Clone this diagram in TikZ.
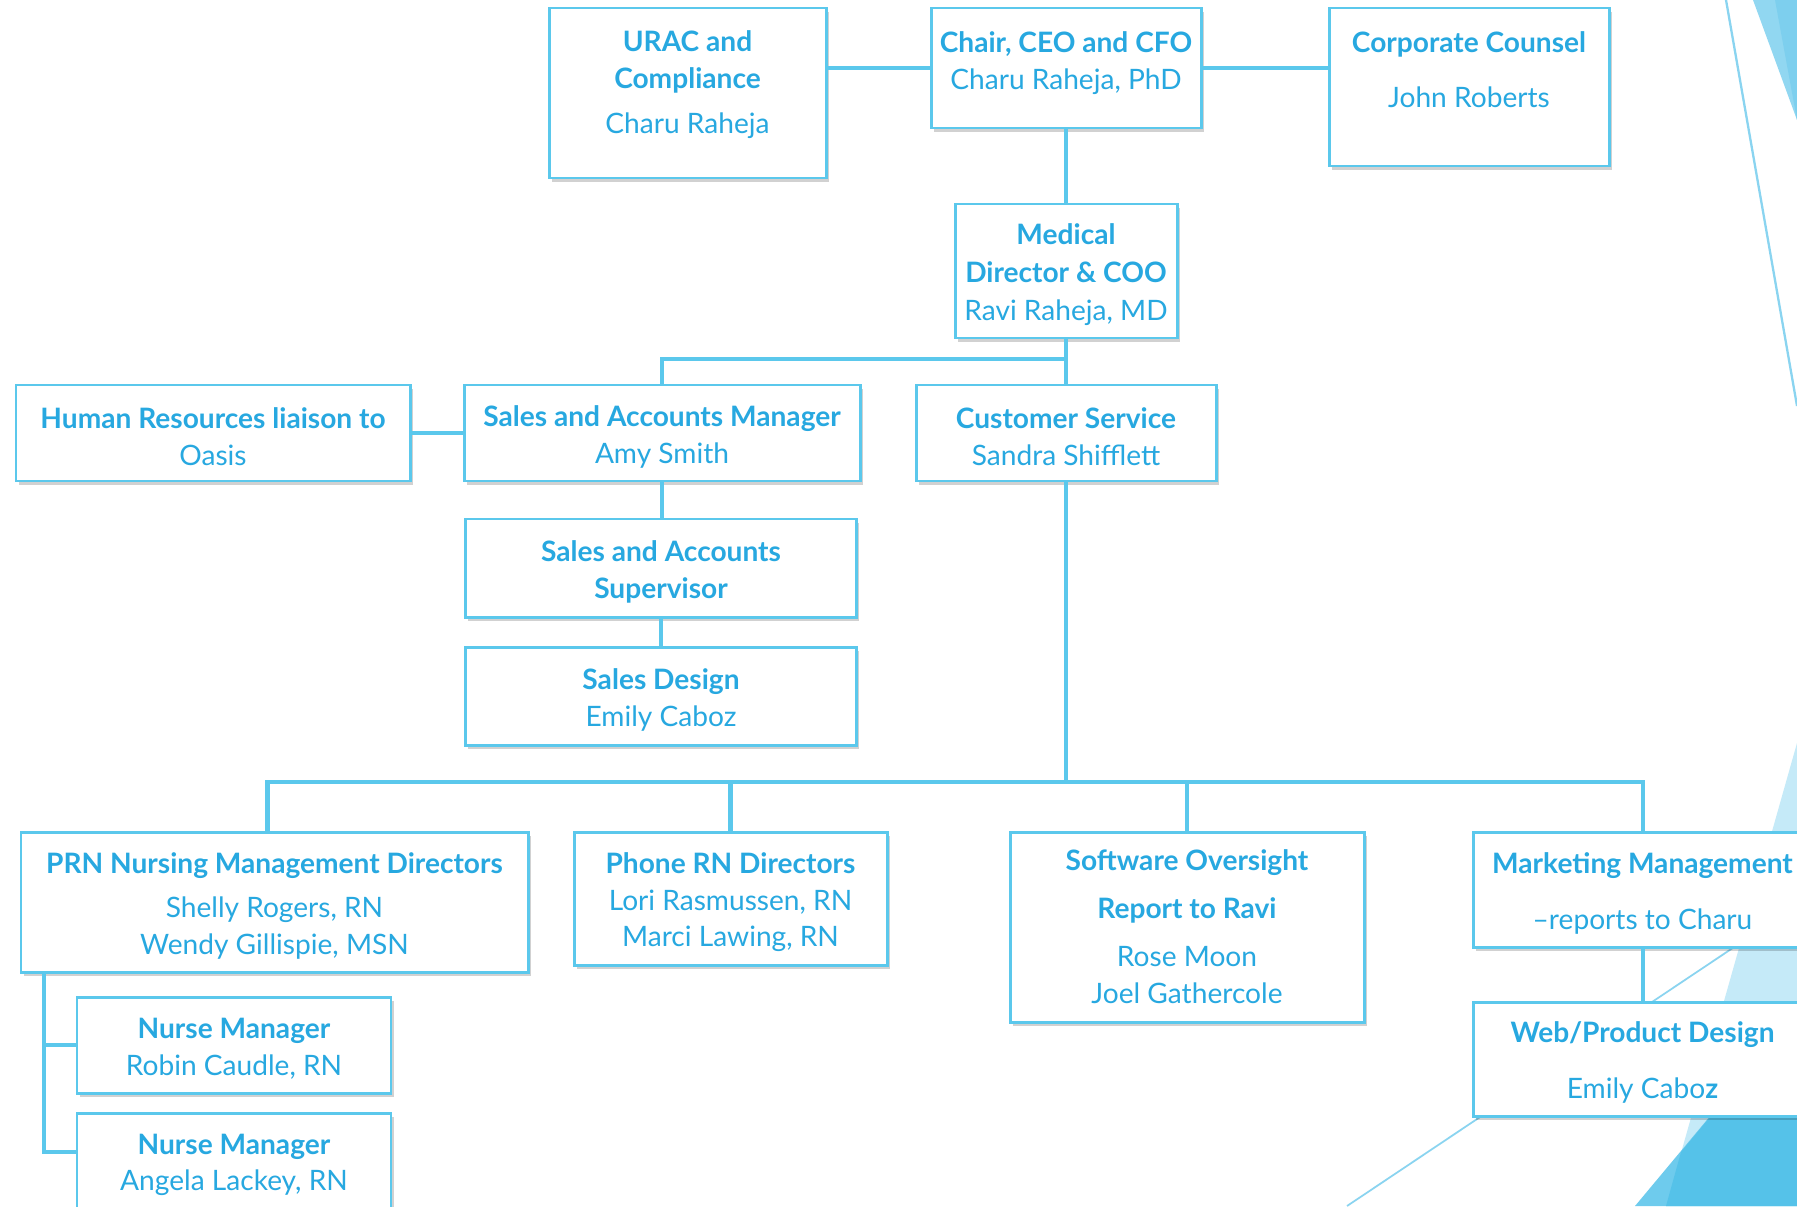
\documentclass[tikz,border=0pt]{standalone}
\usepackage{fontspec}
\setmainfont{Lato}
\usetikzlibrary{shadows}
\definecolor{boxblue}{HTML}{5BC8EC}
\definecolor{txtblue}{HTML}{27A8E0}
\definecolor{decoline}{HTML}{8AD4F0}
\definecolor{decolight}{HTML}{C5EAF8}
\definecolor{decomid}{HTML}{6ECBED}
\definecolor{decodark}{HTML}{55C2E9}
\definecolor{decotop}{HTML}{91D7F1}
\definecolor{decotopdark}{HTML}{7DCFEE}
\newcommand{\ttl}[1]{\rule{0pt}{16pt}\textbf{#1}}

\begin{document}
\begin{tikzpicture}[x=0.02cm, y=-0.02cm,
box/.style={draw=boxblue, line width=1.7pt, fill=white, align=center, inner sep=0pt, text=txtblue,
  font=\fontsize{16}{21}\selectfont,
  drop shadow={shadow xshift=1.5pt, shadow yshift=-2pt, opacity=.18, fill=black}},
sz/.style 2 args={minimum width=#1*0.02cm, minimum height=#2*0.02cm},
link/.style={draw=boxblue, line width=2.3pt},
deco/.style={draw=decoline, line width=1pt}]

% SIZE OF THE SLIDE
\clip (0,0) rectangle (1797,1206);
\fill[white] (0,0) rectangle (1797,1206);
%%%%%%%%% CORNER DECORATION %%%%%%%%%
\fill[decotop] (1753,0) -- (1797,0) -- (1797,120) -- cycle;
\fill[decotopdark] (1775,0) -- (1797,0) -- (1797,120) -- cycle;
\draw[deco, line width=1.3pt] (1726,0) -- (1797,406);
\fill[decolight] (1797,743) -- (1666,1206) -- (1797,1206) -- cycle;
\fill[decomid] (1635,1206) -- (1797,1012) -- (1797,1206) -- cycle;
\fill[decodark] (1666,1206) -- (1681,1152) -- (1797,1012) -- (1797,1206) -- cycle;
\draw[deco] (1347,1206) -- (1797,905);

%%%%%%%%% TOP ROW %%%%%%%%%
\node[box, sz={277}{170}, text depth=16.3pt] (urac) at (687.5,93) {\ttl{URAC and}\\\ttl{Compliance}\\[4.5pt]Charu Raheja};
\node[box, sz={270}{120}, text depth=13pt] (chair) at (1066,68) {\ttl{Chair, CEO and CFO}\\Charu Raheja, PhD};
\node[box, sz={280}{158}, text depth=24pt] (counsel) at (1469,87) {\ttl{Corporate Counsel}\\[10.8pt]John Roberts};
\node[box, sz={222}{134}] (medical) at (1066,271) {\ttl{Medical}\\[0.5pt]\ttl{Director \& COO}\\[0.5pt]Ravi Raheja, MD};

%%%%%%%%% SECOND ROW %%%%%%%%%
\node[box, sz={394}{96}] (hr) at (213,433) {\ttl{Human Resources liaison to}\\Oasis};
\node[box, sz={396}{96}] (salesmgr) at (662,433) {\ttl{Sales and Accounts Manager}\\Amy Smith};
\node[box, sz={300}{96}] (custserv) at (1066,433) {\ttl{Customer Service}\\Sandra Shifflett};
\node[box, sz={391}{98}] (salessup) at (661,568) {\ttl{Sales and Accounts}\\\ttl{Supervisor}};
\node[box, sz={391}{98}] (salesdesign) at (661,696) {\ttl{Sales Design}\\Emily Caboz};

%%%%%%%%% BOTTOM ROW %%%%%%%%%
\node[box, sz={507}{140}] (prn) at (274.5,902) {\ttl{PRN Nursing Management Directors}\\[4pt]Shelly Rogers, RN\\Wendy Gillispie, MSN};
\node[box, sz={313}{133}] (phone) at (730.5,898.5) {\ttl{Phone RN Directors}\\Lori Rasmussen, RN\\Marci Lawing, RN};
\node[box, sz={354}{190}, text depth=4.5pt] (software) at (1187,927) {\ttl{Software Oversight}\\[6.3pt]\ttl{Report to Ravi}\\[6.3pt]Rose Moon\\Joel Gathercole};
\node[box, sz={338}{115}] (marketing) at (1642.5,889.5) {\ttl{Marketing Management}\\[10.8pt]--reports to Charu};
\node[box, sz={338}{114}] (web) at (1642.5,1059) {\ttl{Web/Product Design}\\[10.8pt]Emily Cabo\textbf{z}};
\node[box, sz={314}{96}] (nurseA) at (234,1045) {\ttl{Nurse Manager}\\Robin Caudle, RN};
\node[box, sz={314}{96}] (nurseB) at (234,1161) {\ttl{Nurse Manager}\\Angela Lackey, RN};

%%%%%%%%% CONNECTORS %%%%%%%%%
\coordinate (busA) at (1066,359);
\coordinate (busB) at (1066,782);
\coordinate (trunk) at (44,1152);
\draw[link] (urac.east |- chair.west) -- (chair.west);
\draw[link] (chair.east) -- (chair.east -| counsel.west);
\draw[link] (chair.south) -- (medical.north);
\draw[link] (medical.south) -- (custserv.north);
\draw[link] (salesmgr.north) |- (busA);
\draw[link] (hr.east) -- (salesmgr.west);
\draw[link] (salesmgr.south) -- (salesmgr.south |- salessup.north);
\draw[link] (salessup.south) -- (salesdesign.north);
\draw[link] (custserv.south) -- (busB);
\draw[link] ([xshift=-.14cm]prn.north) |- (marketing.north |- busB) -- (marketing.north);
\draw[link] (phone.north) -- (phone.north |- busB);
\draw[link] (software.north) -- (software.north |- busB);
\draw[link] (marketing.south) -- (web.north);
\draw[link] (prn.south -| trunk) -- (trunk) -- (trunk -| nurseB.west);
\draw[link] (trunk |- nurseA.west) -- (nurseA.west);
\end{tikzpicture}
\end{document}
